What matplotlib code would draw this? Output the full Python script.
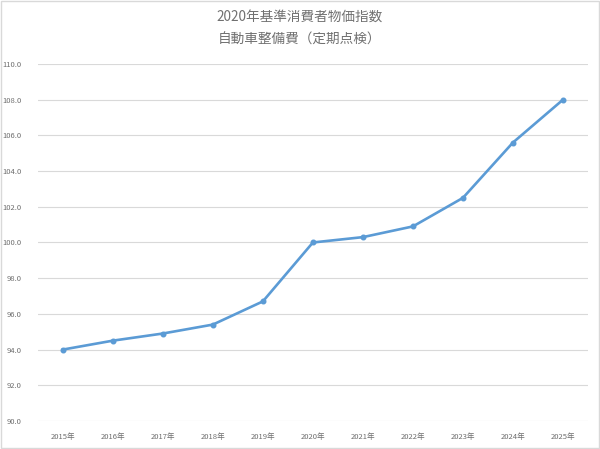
import matplotlib
matplotlib.use("Agg")
import matplotlib.pyplot as plt

plt.rcParams['font.family'] = ['Noto Sans CJK JP', 'DejaVu Sans']

# data
years = ["2015年", "2016年", "2017年", "2018年", "2019年", "2020年",
         "2021年", "2022年", "2023年", "2024年", "2025年"]
index_values = [94.0, 94.5, 94.9, 95.4, 96.7, 100.0, 100.3, 100.9, 102.5, 105.6, 108.0]
yticks = [90, 92, 94, 96, 98, 100, 102, 104, 106, 108, 110]

fig = plt.figure(figsize=(6.0, 4.49), dpi=100)
ax = fig.add_axes([0.063, 0.0624, 0.917, 0.7951])

x = list(range(len(years)))
ax.plot(x, index_values, color="#5B9BD5", linewidth=1.9,
        marker="o", markersize=3.3, zorder=3)

ax.set_xlim(-0.5, len(years) - 0.5)
ax.set_ylim(90, 110)
ax.set_yticks(yticks)
ax.set_yticklabels([f"{v:.1f}" for v in yticks])
ax.set_xticks(x)
ax.set_xticklabels(years)
ax.tick_params(axis="both", length=0, labelsize=5.5, labelcolor="#6E6E6E")
ax.tick_params(axis="x", pad=9)
ax.tick_params(axis="y", pad=12)
ax.grid(axis="y", color="#D9D9D9", linewidth=0.8)
ax.set_axisbelow(True)
for s in ax.spines.values():
    s.set_visible(False)

fig.text(0.5, 0.962, "2020年基準消費者物価指数", ha="center", va="center",
         fontsize=9.8, color="#707070")
fig.text(0.5, 0.911, "自動車整備費（定期点検）", ha="center", va="center",
         fontsize=9.8, color="#707070")

# light frame around the chart area
fig.patches.append(plt.Rectangle((0.002, 0.002), 0.996, 0.996, transform=fig.transFigure,
                                 fill=False, edgecolor="#D9D9D9", linewidth=1.0))

fig.savefig("out.png", dpi=100)
